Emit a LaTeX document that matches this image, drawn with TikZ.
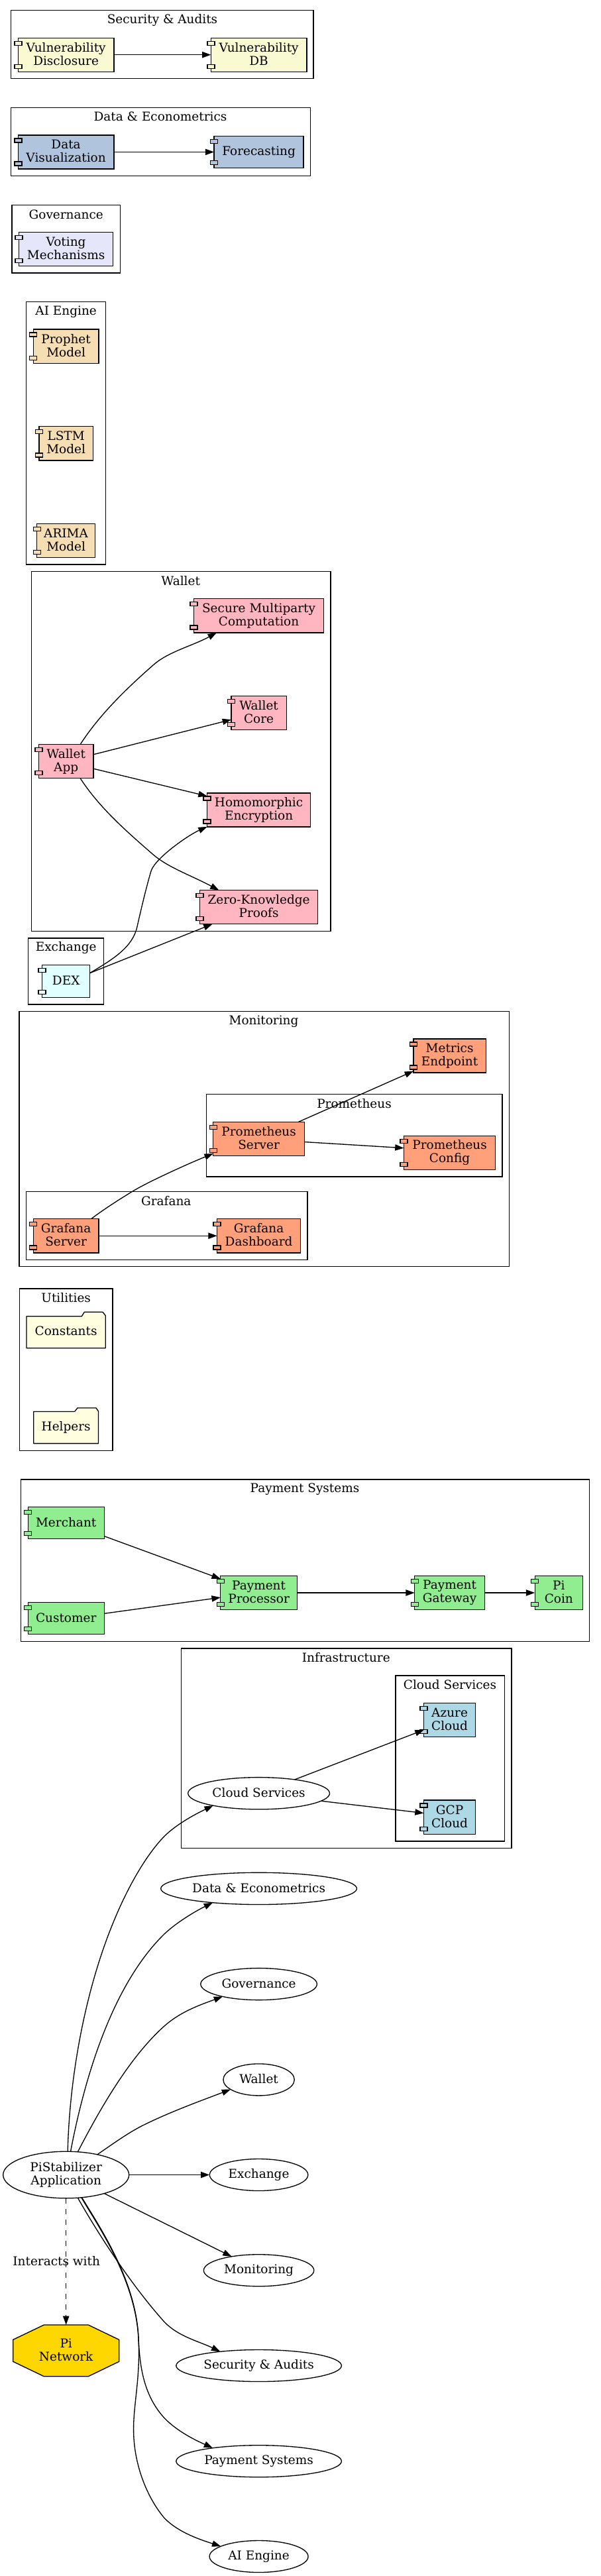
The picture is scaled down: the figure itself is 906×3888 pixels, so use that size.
\documentclass[tikz,border=0pt]{standalone}
\usepackage{fontspec}
\setmainfont{DejaVu Serif}
\usetikzlibrary{arrows.meta,calc,shapes.geometric}
\newcommand\tstrut{\rule[-2.8pt]{0pt}{16.8pt}}
\tikzset{
  x=1pt,y=-1pt,
  txt/.style={font=\fontsize{18.47}{20}\selectfont,align=center,inner sep=0pt,outer sep=0pt,
    execute at begin node=\tstrut,execute at end node=\tstrut},
  clusterbox/.style={draw=black,line width=1.33pt},
  compbox/.style={txt,draw=black,line width=1.33pt,rectangle},
  tabbox/.style={draw=black,line width=1.33pt},
  ell/.style={txt,draw=black,line width=1.33pt,shape=ellipse},
  link/.style={draw=black,line width=1.33pt,-{Triangle[length=13.3pt,width=9.3pt]}},
  folderbox/.style={draw=black,line width=1.33pt,fill=lyellow,line join=round},
}
\definecolor{lgold}{HTML}{FAFAD2}
\definecolor{lsteel}{HTML}{B0C4DE}
\definecolor{lav}{HTML}{E6E6FA}
\definecolor{whea}{HTML}{F5DEB3}
\definecolor{lpink}{HTML}{FFB6C1}
\definecolor{lcyan}{HTML}{E0FFFF}
\definecolor{lsalmon}{HTML}{FFA07A}
\definecolor{lyellow}{HTML}{FFFFE0}
\definecolor{lgreen}{HTML}{90EE90}
\definecolor{lblue}{HTML}{ADD8E6}
\definecolor{goldc}{HTML}{FFD700}
% name, colour, cx, cy, width, height, text
\newcommand\compnode[7]{%
  \node[compbox,fill=#2,minimum width=#5pt,minimum height=#6pt] (#1) at (#3,#4) {#7};
  \draw[tabbox,fill=#2] ($(#1.north west)+(-5.5,5)$) rectangle ($(#1.north west)+(5.5,11)$);
  \draw[tabbox,fill=#2] ($(#1.south west)+(-5.5,-5)$) rectangle ($(#1.south west)+(5.5,-11)$);
}
\newcommand\clustertitle[4]{\node[txt] (#1) at (#2,#3) {#4};}
\begin{document}
\begin{tikzpicture}
\useasboundingbox (0,0) rectangle (906,3888);
% clusters
\draw[clusterbox] (16.8,15.4) rectangle (473,118.5);
\clustertitle{tsec}{245}{30.4}{Security \& Audits}
\draw[clusterbox] (16.8,162.4) rectangle (468.6,265.5);
\clustertitle{tdata}{242}{177.4}{Data \& Econometrics}
\draw[clusterbox] (18,309.4) rectangle (181.4,412);
\clustertitle{tgov}{99.7}{324.4}{Governance}
\draw[clusterbox] (39.3,455.8) rectangle (159.5,852);
\clustertitle{tai}{99.7}{470.8}{AI Engine}
\draw[clusterbox] (47.4,862.5) rectangle (499,1405.4);
\clustertitle{twal}{272.7}{877.5}{Wallet}
\draw[clusterbox] (42.2,1416) rectangle (156.6,1516);
\clustertitle{tex}{99.7}{1431}{Exchange}
\draw[clusterbox] (28.9,1526.3) rectangle (768.5,1911.6);
\clustertitle{tmon}{398}{1541.3}{Monitoring}
\draw[clusterbox] (311.4,1651.8) rectangle (758,1775.9);
\clustertitle{tprom}{534.5}{1666.8}{Prometheus}
\draw[clusterbox] (39.3,1798.7) rectangle (464,1901.3);
\clustertitle{tgraf}{250.8}{1813.7}{Grafana}
\draw[clusterbox] (29.5,1945) rectangle (170,2189.3);
\clustertitle{tutil}{99.7}{1960}{Utilities}
\draw[clusterbox] (31.8,2233) rectangle (889.8,2477.2);
\clustertitle{tpay}{460}{2248}{Payment Systems}
\draw[clusterbox] (273.3,2488) rectangle (772,2789.3);
\clustertitle{tinf}{522.3}{2503}{Infrastructure}
\draw[clusterbox] (596.9,2529) rectangle (761.5,2779);
\clustertitle{tcs}{679}{2544}{Cloud Services}
% security, data, governance, AI
\compnode{vd}{lgold}{99.6}{82.7}{144.5}{51}{Vulnerability\\Disclosure}
\compnode{vdb}{lgold}{390.6}{82.7}{144.5}{51}{Vulnerability\\DB}
\compnode{dv}{lsteel}{99.6}{229.4}{144.5}{51}{Data\\Visualization}
\compnode{fc}{lsteel}{390.6}{229.4}{135}{48.4}{Forecasting}
\compnode{vote}{lav}{99.6}{376}{142.2}{51}{Voting\\Mechanisms}
\compnode{proph}{whea}{99.6}{522.8}{98.7}{51.4}{Prophet\\Model}
\compnode{lstm}{whea}{99.6}{669.2}{81.4}{51.4}{LSTM\\Model}
\compnode{arima}{whea}{99.6}{816}{87.8}{51}{ARIMA\\Model}
% wallet, exchange
\compnode{smc}{lpink}{390.6}{929.3}{196.4}{51.4}{Secure Multiparty\\Computation}
\compnode{core}{lpink}{390.6}{1075.8}{83.2}{51}{Wallet\\Core}
\compnode{wapp}{lpink}{99.7}{1149.1}{82.6}{51}{Wallet\\App}
\compnode{homo}{lpink}{390.6}{1222.5}{156}{51.3}{Homomorphic\\Encryption}
\compnode{zk}{lpink}{390.6}{1369.2}{178}{51}{Zero-Knowledge\\Proofs}
\compnode{dex}{lcyan}{99.7}{1481}{72.2}{48.7}{DEX}
% monitoring
\compnode{metr}{lsalmon}{678.6}{1593.4}{109.2}{51}{Metrics\\Endpoint}
\compnode{proms}{lsalmon}{390.6}{1718.7}{137.6}{51}{Prometheus\\Server}
\compnode{promc}{lsalmon}{678.6}{1740}{138.1}{51.3}{Prometheus\\Config}
\compnode{grafs}{lsalmon}{99.65}{1865.2}{98.7}{51.7}{Grafana\\Server}
\compnode{grafd}{lsalmon}{390.6}{1865.2}{126}{51.7}{Grafana\\Dashboard}
% utilities
\draw[folderbox] (40,1986.7) -- (123.3,1986.7) -- (127.3,1980.3) -- (155,1980.3) -- (159.3,1985.7) -- (159.3,2034.7) -- (40,2034.7) -- cycle;
\node[txt] (consts) at (99.6,2010) {Constants};
\draw[folderbox] (50.8,2130.4) -- (112.7,2130.4) -- (117,2125) -- (145,2125) -- (148.5,2130) -- (148.5,2178.6) -- (50.8,2178.6) -- cycle;
\node[txt] (helpers) at (99.7,2154.2) {Helpers};
% payment
\compnode{merch}{lgreen}{99.7}{2298.7}{115}{48.2}{Merchant}
\compnode{cust}{lgreen}{99.7}{2442.4}{115}{48.2}{Customer}
\compnode{proc}{lgreen}{390.6}{2404}{115.6}{50.9}{Payment\\Processor}
\compnode{gway}{lgreen}{678.6}{2404}{105.7}{50.9}{Payment\\Gateway}
\compnode{coin}{lgreen}{843.3}{2404}{72.2}{50.9}{Pi\\Coin}
% cloud
\compnode{azure}{lblue}{678.6}{2596}{78}{50.9}{Azure\\Cloud}
\compnode{gcp}{lblue}{678.6}{2742.7}{78}{51.3}{GCP\\Cloud}
\node[ell,minimum width=213.8pt,minimum height=48.2pt] (cloud) at (390.6,2706.7) {Cloud Services};
% ellipses
\node[ell,minimum width=295.8pt,minimum height=48.2pt] (edata) at (390.6,2850.4) {Data \& Econometrics};
\node[ell,minimum width=175.6pt,minimum height=48pt] (egov) at (390.6,2994.6) {Governance};
\node[ell,minimum width=107.4pt,minimum height=48pt] (ewal) at (390.6,3138.9) {Wallet};
\node[ell,minimum width=148.5pt,minimum height=48pt] (eex) at (390.6,3282.5) {Exchange};
\node[ell,minimum width=166.4pt,minimum height=48pt] (emon) at (390.6,3426.7) {Monitoring};
\node[ell,minimum width=249.6pt,minimum height=48pt] (esec) at (390.6,3570.5) {Security \& Audits};
\node[ell,minimum width=249.6pt,minimum height=48pt] (epay) at (390.6,3714.7) {Payment Systems};
\node[ell,minimum width=149pt,minimum height=48pt] (eai) at (390.6,3858.5) {AI Engine};
\node[ell,minimum width=190pt,minimum height=70.6pt] (app) at (99.7,3282.5) {PiStabilizer\\Application};
% Pi Network
\draw[draw=black,line width=1.33pt,fill=goldc] (66.3,3509) -- (133.3,3509) -- (179.7,3531.3) -- (179.7,3564.3) -- (133.3,3586.7) -- (66.3,3586.7) -- (19.7,3564.3) -- (19.7,3531.3) -- cycle;
\node[txt,minimum width=160pt,minimum height=77.7pt] (pin) at (99.7,3547.8) {Pi\\Network};
% edges
\draw[link] (vd.east) -- (vdb.west);
\draw[link] (dv.east) -- (fc.west);
\draw[link] (wapp.50.3) .. controls (150,1079) and (190,1040) .. (231,1004) .. controls (253,984) and (290,975) .. (smc.202.2);
\draw[link] (wapp.14) -- (core.194.6);
\draw[link] (wapp.345.5) -- (homo.165.8);
\draw[link] (wapp.-50.3) .. controls (150,1219) and (190,1254) .. (231,1289.7) .. controls (253,1309) and (290,1322) .. (zk.157.9);
\draw[link] (dex.19.4) .. controls (170,1448) and (200,1430) .. (206.9,1399) .. controls (213,1372) and (221,1338) .. (228.2,1314) .. controls (235,1295) and (283,1261) .. (homo.198.4);
\draw[link] (dex.19.4) -- (zk.200.8);
\draw[link] (grafs.34.8) .. controls (157,1825) and (180.5,1810) .. (200.5,1797.8) .. controls (225,1783) and (285,1756) .. (proms.198);
\draw[link] (proms.23.3) -- (metr.203.6);
\draw[link] (proms.-4.2) -- (promc.174.9);
\draw[link] (grafs.east) -- (grafd.west);
\draw[link] (merch.-19.6) -- (proc.160);
\draw[link] (cust.7.5) -- (proc.187.9);
\draw[link] (proc.east) -- (gway.west);
\draw[link] (gway.east) -- (coin.west);
\draw[link] (cloud.21.1) -- (azure.201.8);
\draw[link] (cloud.-7.1) -- (gcp.171);
\draw[link] (app.86.8) .. controls (105,3130) and (130,3000) .. (171.6,2900) .. controls (192,2850) and (220,2800) .. (248.5,2771) .. controls (268,2752) and (297,2737) .. (cloud.195.6);
\draw[link] (app.79.4) .. controls (125,3150) and (165,3000) .. (248,2919) .. controls (268,2900) and (298,2883) .. (edata.197.4);
\draw[link] (app.63.1) .. controls (150,3185) and (195,3105) .. (248.5,3057.5) .. controls (274,3035) and (305,3025) .. (egov.199.1);
\draw[link] (app.33.8) .. controls (170,3236) and (192,3220) .. (213.8,3208.8) .. controls (255,3188) and (305,3170) .. (ewal.199.7);
\draw[link] (app.east) -- (eex.west);
\draw[link] (app.-26.2) -- (emon.153.9);
\draw[link] (app.-63.1) .. controls (137,3352) and (190,3440) .. (248.5,3505) .. controls (270,3527) and (301,3534) .. (esec.160.7);
\draw[link] (app.-56.4) .. controls (145,3355) and (205,3440) .. (209,3530) .. controls (211,3570) and (216,3615) .. (248.5,3650) .. controls (268,3670) and (295,3683) .. (epay.164);
\draw[link] (app.-55) .. controls (146,3355) and (206,3440) .. (209,3530) .. controls (212,3590) and (201,3630) .. (201.6,3668.7) .. controls (202,3720) and (222,3770) .. (248.5,3801) .. controls (270,3823) and (305,3834) .. (eai.165.4);
\draw[link,dash pattern=on 8pt off 8pt] (app.south) -- (pin.north);
\node[txt] (lblint) at (85.2,3413.7) {Interacts with};
\end{tikzpicture}
\end{document}
